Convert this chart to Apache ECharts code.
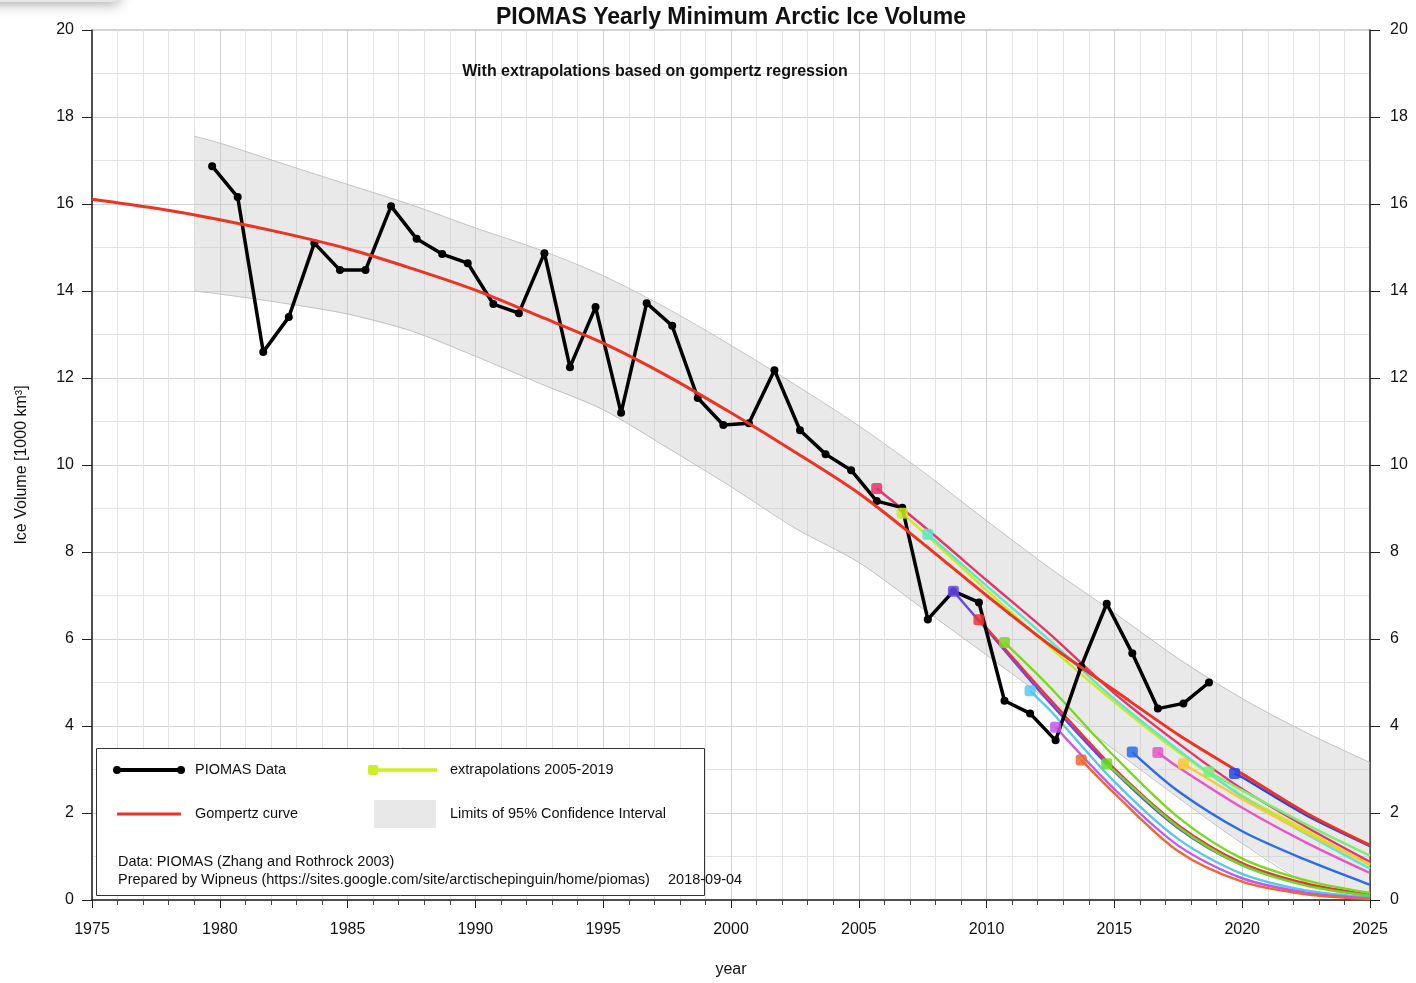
<!DOCTYPE html>
<html><head><meta charset="utf-8">
<script src="https://cdn.jsdelivr.net/npm/echarts@6/dist/echarts.min.js"></script>
<style>html,body{margin:0;padding:0;background:#fff}#c{width:1416px;height:983px}</style>
</head><body><div id="c"></div>
<script>
// ---- data ----
const pioYears = [1979,1980,1981,1982,1983,1984,1985,1986,1987,1988,1989,1990,1991,1992,1993,1994,1995,1996,1997,1998,1999,2000,2001,2002,2003,2004,2005,2006,2007,2008,2009,2010,2011,2012,2013,2014,2015,2016,2017,2018];
const pioVolume = [16.87,16.16,12.6,13.4,15.1,14.48,14.48,15.95,15.2,14.85,14.64,13.7,13.49,14.87,12.25,13.63,11.2,13.72,13.2,11.54,10.92,10.96,12.18,10.8,10.25,9.88,9.17,9.02,6.45,7.1,6.84,4.58,4.29,3.67,5.37,6.81,5.67,4.4,4.52,5.0];
const minimumYearFraction = 0.7; // September minimum plotted at fraction of year

const gompYears = [1975,1977.5,1980,1982.5,1985,1987.5,1990,1992.5,1995,1997.5,2000,2002.5,2005,2007.5,2010,2012.5,2015,2017.5,2020,2022.5,2025];
const gompValues = [16.11,15.9,15.64,15.33,14.97,14.52,14.02,13.42,12.8,12.05,11.2,10.3,9.35,8.2,7.0,5.85,4.82,3.8,2.9,2.0,1.26];

const bandYears = [1979,1980,1982.5,1985,1987.5,1990,1992.5,1995,1997.5,2000,2002.5,2005,2007.5,2010,2012.5,2015,2017.5,2020,2022.5,2025];
const bandUpper = [17.56,17.4,16.92,16.45,15.98,15.45,14.95,14.35,13.6,12.75,11.85,10.9,9.85,8.72,7.62,6.6,5.55,4.63,3.85,3.16];
const bandLower = [14.0,13.93,13.72,13.47,13.08,12.5,11.88,11.27,10.4,9.5,8.55,7.76,6.7,5.63,4.55,3.45,2.35,1.3,0.4,0.0];

const extrapStartYears = [2005,2006,2007,2008,2009,2010,2011,2012,2013,2014,2015,2016,2017,2018,2019];
const extrapColors = ['#e8336b','#c8ec1c','#5de8c8','#6a45ee','#ee3333','#7ad820','#55c8f0','#c855ee','#ee6630','#66dd22','#2b6aee','#e855c8','#fcc834','#7aee7a','#2244ee'];
const ext2005 = [[2005.7,9.46],[2007.5,8.61],[2010,7.35],[2012.5,6.1],[2015,4.75],[2017.5,3.6],[2020,2.55],[2022.5,1.68],[2025,0.88]];
const ext2006 = [[2006.7,8.89],[2007.5,8.47],[2010,7.12],[2012.5,5.8],[2015,4.55],[2017.5,3.4],[2020,2.4],[2022.5,1.6],[2025,0.8]];
const ext2007 = [[2007.7,8.41],[2010,7.22],[2012.5,5.95],[2015,4.62],[2017.5,3.45],[2020,2.38],[2022.5,1.52],[2025,0.72]];
const ext2008 = [[2008.7,7.1],[2009.7,6.42],[2010,6.22],[2012.5,4.52],[2015,2.95],[2017.5,1.65],[2020,0.8],[2022.5,0.35],[2025,0.1]];
const ext2009 = [[2009.7,6.44],[2010,6.25],[2012.5,4.6],[2015,3.02],[2017.5,1.72],[2020,0.85],[2022.5,0.38],[2025,0.12]];
const ext2010 = [[2010.7,5.92],[2012.5,4.88],[2015,3.3],[2017.5,1.9],[2020,0.95],[2022.5,0.45],[2025,0.16]];
const ext2011 = [[2011.7,4.81],[2012.5,4.35],[2015,2.72],[2017.5,1.4],[2020,0.6],[2022.5,0.22],[2025,0.06]];
const ext2012 = [[2012.7,3.97],[2015,2.55],[2017.5,1.25],[2020,0.5],[2022.5,0.17],[2025,0.04]];
const ext2013 = [[2013.7,3.22],[2015,2.45],[2017.5,1.12],[2020,0.42],[2022.5,0.13],[2025,0.02]];
const ext2014 = [[2014.7,3.13],[2015,2.97],[2017.5,1.68],[2020,0.8],[2022.5,0.33],[2025,0.1]];
const ext2015 = [[2015.7,3.4],[2017.5,2.5],[2020,1.58],[2022.5,0.92],[2025,0.35]];
const ext2016 = [[2016.7,3.39],[2017.5,3.05],[2020,2.12],[2022.5,1.32],[2025,0.62]];
const ext2017 = [[2017.7,3.13],[2020,2.32],[2022.5,1.55],[2025,0.82]];
const ext2018 = [[2018.7,2.95],[2020,2.52],[2022.5,1.74],[2025,1.02]];
const ext2019 = [[2019.7,2.91],[2020,2.82],[2022.5,1.95],[2025,1.24]];
const extrapCurves = [ext2005,ext2006,ext2007,ext2008,ext2009,ext2010,ext2011,ext2012,ext2013,ext2014,ext2015,ext2016,ext2017,ext2018,ext2019];

const titleText = 'PIOMAS Yearly Minimum Arctic Ice Volume';
const subtitleText = 'With extrapolations based on gompertz regression';
const yName = 'Ice Volume [1000 km³]';
const xName = 'year';

// ---- chart ----
const FONT = '"Liberation Sans", Arial, Helvetica, sans-serif';
const chart = echarts.init(document.getElementById('c'), null, {renderer:'canvas'});

const pioData = pioYears.map((y,i)=>[y+minimumYearFraction, pioVolume[i]]);
const gompData = gompYears.map((y,i)=>[y, gompValues[i]]);

const SMOOTH = 0.3;
const extrapSeries = extrapCurves.map((c,i)=>({
  type:'line', name:'ext'+extrapStartYears[i], data:c, smooth:SMOOTH,
  symbol:'none', lineStyle:{color:extrapColors[i], width:2.4}, z:3, silent:true
}));
extrapSeries.unshift(extrapSeries.pop()); // 2019 lies under the Gompertz curve

const markerData = extrapCurves.map((c,i)=>({value:c[0], itemStyle:{color:extrapColors[i], opacity:0.85}}));

const axisFont = {fontFamily:FONT, fontSize:16, color:'#111'};

const option = {
  animation:false,
  backgroundColor:'#fff',
  grid:{left:92, right:46, top:30, bottom:83, show:true, borderColor:'#a8a8a8', borderWidth:1, backgroundColor:'transparent'},
  xAxis:{
    type:'value', min:1975, max:2025, interval:5,
    name:xName, nameLocation:'middle', nameGap:62, nameTextStyle:{fontFamily:FONT, fontSize:16, color:'#111'},
    axisLine:{show:true, onZero:false, lineStyle:{color:'#222', width:1.5}},
    axisTick:{show:true, inside:false, length:8, lineStyle:{color:'#222', width:1}},
    minorTick:{show:true, splitNumber:5, length:5, lineStyle:{color:'#444', width:1}},
    splitLine:{show:true, lineStyle:{color:'#d2d2d2', width:1}},
    minorSplitLine:{show:true, lineStyle:{color:'#e3e3e3', width:1}},
    axisLabel:Object.assign({margin:22, formatter:v=>String(v)}, axisFont)
  },
  yAxis:[{
    type:'value', min:0, max:20, interval:2, position:'left',
    name:yName, nameLocation:'middle', nameGap:62, nameTextStyle:{fontFamily:FONT, fontSize:16, color:'#111'},
    axisLine:{show:true, onZero:false, lineStyle:{color:'#222', width:1.5}},
    axisTick:{show:true, inside:false, length:10, lineStyle:{color:'#222'}},
    minorTick:{show:false, splitNumber:2},
    splitLine:{show:true, lineStyle:{color:'#d2d2d2', width:1}},
    minorSplitLine:{show:true, lineStyle:{color:'#e3e3e3', width:1}},
    axisLabel:Object.assign({margin:18}, axisFont)
  },{
    type:'value', min:0, max:20, interval:2, position:'right',
    axisLine:{show:true, onZero:false, lineStyle:{color:'#222', width:1.5}},
    axisTick:{show:true, inside:false, length:10, lineStyle:{color:'#222'}},
    splitLine:{show:false},
    axisLabel:Object.assign({margin:20}, axisFont)
  }],
  series:[
    {
      type:'custom', name:'band', data:[[bandYears[0], bandLower[0]]], encode:{x:0,y:1}, z:1, silent:true, clip:true,
      renderItem:function(params, api){
        const up = bandYears.map((y,i)=>api.coord([y, bandUpper[i]]));
        const lo = bandYears.map((y,i)=>api.coord([y, bandLower[i]]));
        return {type:'group', children:[
          {type:'polygon', shape:{points:up.concat(lo.slice().reverse())}, style:{fill:'rgba(200,200,200,0.4)'}},
          {type:'polyline', shape:{points:up, smooth:SMOOTH}, style:{stroke:'#c2c2c2', lineWidth:1, fill:null}},
          {type:'polyline', shape:{points:lo, smooth:SMOOTH}, style:{stroke:'#c2c2c2', lineWidth:1, fill:null}}
        ]};
      }
    },
    ...extrapSeries,
    {
      type:'line', name:'PIOMAS Data', data:pioData, symbol:'circle', symbolSize:8, showSymbol:true,
      lineStyle:{color:'#000', width:3.5}, itemStyle:{color:'#000'}, z:4, silent:true
    },
    {
      type:'line', name:'Gompertz curve', data:gompData, smooth:SMOOTH, symbol:'none',
      lineStyle:{color:'#ee3322', width:3}, z:5, silent:true
    },
    {
      type:'scatter', name:'starts', data:markerData, symbol:'roundRect', symbolSize:11, z:6, silent:true
    }
  ],
  graphic:[
    {type:'rect', left:-20, top:-24, shape:{width:140, height:26, r:6}, style:{fill:'#e6e6e6', shadowBlur:14, shadowColor:'rgba(0,0,0,0.35)', shadowOffsetY:2}, z:1},
    {type:'text', x:731, y:18, style:{text:titleText, font:'bold 23px '+FONT, fill:'#111', textAlign:'center', textVerticalAlign:'middle'}, z:20},
    {type:'text', x:655, y:72, style:{text:subtitleText, font:'bold 16px '+FONT, fill:'#111', textAlign:'center', textVerticalAlign:'middle'}, z:20},
    {type:'group', z:50, children:[
      {type:'rect', shape:{x:96.5, y:748.5, width:608, height:147}, style:{fill:'#fff', stroke:'#333', lineWidth:1}, z:50},
      {type:'line', shape:{x1:117, y1:770, x2:181, y2:770}, style:{stroke:'#000', lineWidth:4}, z:51},
      {type:'circle', shape:{cx:117, cy:770, r:4}, style:{fill:'#000'}, z:52},
      {type:'circle', shape:{cx:181, cy:770, r:4}, style:{fill:'#000'}, z:52},
      {type:'text', x:195, y:770, style:{text:'PIOMAS Data', font:'14.5px '+FONT, fill:'#111', textVerticalAlign:'middle'}, z:52},
      {type:'line', shape:{x1:372, y1:770, x2:437, y2:770}, style:{stroke:'#ccee22', lineWidth:3.5}, z:51},
      {type:'rect', shape:{x:368, y:765, width:10, height:10, r:2}, style:{fill:'#ccee22'}, z:52},
      {type:'text', x:450, y:770, style:{text:'extrapolations 2005-2019', font:'14.5px '+FONT, fill:'#111', textVerticalAlign:'middle'}, z:52},
      {type:'line', shape:{x1:117, y1:814, x2:181, y2:814}, style:{stroke:'#ee3322', lineWidth:3}, z:51},
      {type:'text', x:195, y:814, style:{text:'Gompertz curve', font:'14.5px '+FONT, fill:'#111', textVerticalAlign:'middle'}, z:52},
      {type:'rect', shape:{x:374, y:800, width:62, height:28}, style:{fill:'#e8e8e8'}, z:51},
      {type:'text', x:450, y:814, style:{text:'Limits of 95% Confidence Interval', font:'14.5px '+FONT, fill:'#111', textVerticalAlign:'middle'}, z:52},
      {type:'text', x:118, y:862, style:{text:'Data: PIOMAS (Zhang and Rothrock 2003)', font:'14.5px '+FONT, fill:'#111', textVerticalAlign:'middle'}, z:52},
      {type:'text', x:118, y:880, style:{text:'Prepared by Wipneus (https://sites.google.com/site/arctischepinguin/home/piomas)', font:'14.5px '+FONT, fill:'#111', textVerticalAlign:'middle'}, z:52},
      {type:'text', x:668, y:880, style:{text:'2018-09-04', font:'14.5px '+FONT, fill:'#111', textVerticalAlign:'middle'}, z:52}
    ]}
  ]
};
chart.setOption(option);
</script>
</body></html>
